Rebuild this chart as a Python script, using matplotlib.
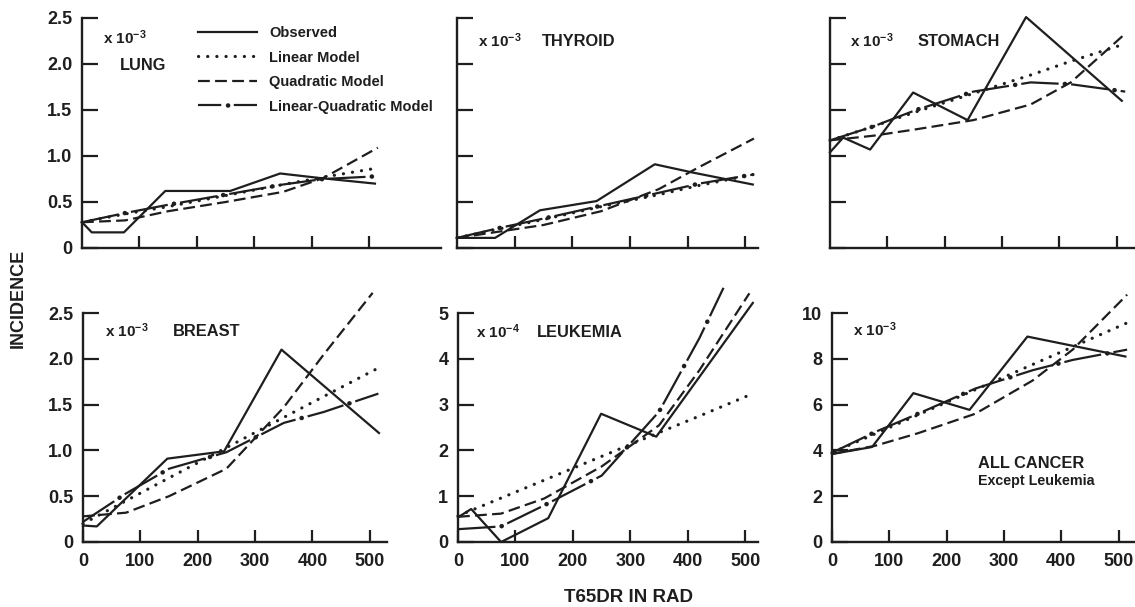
import matplotlib
matplotlib.use("Agg")
import matplotlib.pyplot as plt
from matplotlib.lines import Line2D

plt.rcParams["font.family"] = ["Liberation Sans", "DejaVu Sans"]
plt.rcParams["font.weight"] = "bold"
plt.rcParams["lines.scale_dashes"] = False
plt.rcParams["mathtext.fontset"] = "custom"
plt.rcParams["mathtext.rm"] = "Liberation Sans:bold"
plt.rcParams["mathtext.default"] = "rm"

INK = "#1e1e1e"
W, H = 1135, 607

# model curves are tabulated at these doses (rad)
MODEL_DOSE = [0, 75, 150, 250, 350, 420, 515]

# lung, x 10^-3
lung_obs_dose = [0, 17, 73, 145, 258, 345, 415, 510]
lung_obs = [0.28, 0.17, 0.17, 0.62, 0.62, 0.81, 0.76, 0.70]
lung_lin = [0.28, 0.37, 0.45, 0.57, 0.69, 0.77, 0.87]
lung_quad = [0.28, 0.30, 0.40, 0.50, 0.61, 0.76, 1.09]
lung_lq = [0.28, 0.38, 0.47, 0.58, 0.69, 0.75, 0.78]

# thyroid, x 10^-3
thyroid_obs_dose = [0, 66, 144, 242, 343, 409, 513]
thyroid_obs = [0.11, 0.11, 0.41, 0.51, 0.91, 0.82, 0.69]
thyroid_lin = [0.11, 0.21, 0.31, 0.45, 0.58, 0.68, 0.80]
thyroid_quad = [0.11, 0.18, 0.25, 0.40, 0.64, 0.88, 1.19]
thyroid_lq = [0.11, 0.22, 0.32, 0.46, 0.60, 0.70, 0.80]

# stomach, x 10^-3
stomach_obs_dose = [0, 23, 70, 145, 240, 342, 509]
stomach_obs = [1.04, 1.20, 1.07, 1.69, 1.39, 2.51, 1.60]
stomach_lin = [1.17, 1.32, 1.48, 1.68, 1.88, 2.03, 2.22]
stomach_quad = [1.17, 1.22, 1.29, 1.39, 1.56, 1.80, 2.33]
stomach_lq = [1.17, 1.32, 1.50, 1.70, 1.80, 1.78, 1.70]

# breast, x 10^-3
breast_obs_dose = [0, 24, 147, 246, 346, 516]
breast_obs = [0.18, 0.17, 0.91, 0.99, 2.10, 1.19]
breast_lin = [0.20, 0.45, 0.70, 1.03, 1.36, 1.59, 1.90]
breast_quad_dose = [0, 75, 150, 250, 350, 420, 505]
breast_quad = [0.28, 0.32, 0.50, 0.80, 1.47, 2.05, 2.72]
breast_lq = [0.22, 0.53, 0.80, 0.98, 1.30, 1.42, 1.62]

# leukemia, x 10^-4
leuk_obs_dose = [0, 23, 75, 157, 249, 345, 513]
leuk_obs = [0.54, 0.72, 0.0, 0.52, 2.80, 2.30, 5.22]
leuk_lin = [0.57, 0.96, 1.35, 1.87, 2.39, 2.75, 3.25]
leuk_quad_dose = [0, 75, 150, 250, 350, 420, 507]
leuk_quad = [0.55, 0.62, 0.95, 1.65, 2.55, 3.75, 5.43]
leuk_lq_dose = [0, 75, 150, 250, 350, 420, 462]
leuk_lq = [0.28, 0.34, 0.80, 1.45, 2.85, 4.45, 5.55]

# all cancer except leukemia, x 10^-3
allc_obs_dose = [0, 70, 142, 240, 341, 512]
allc_obs = [3.84, 4.15, 6.50, 5.77, 8.97, 8.10]
allc_lin = [3.90, 4.72, 5.55, 6.65, 7.75, 8.52, 9.57]
allc_quad = [3.85, 4.20, 4.75, 5.60, 7.05, 8.40, 10.80]
allc_lq = [3.90, 4.80, 5.60, 6.70, 7.50, 7.95, 8.40]


def fx(px):
    return px / W


def fy(py):
    return 1 - py / H


def style_obs(ax, x, y):
    ax.plot(x, y, color=INK, lw=1.6, clip_on=False)


def style_lin(ax, x, y):
    ax.plot(x, y, color=INK, lw=2.3, linestyle=(0, (0.1, 6.5)),
            dash_capstyle="round", clip_on=False)


def style_quad(ax, x, y):
    ax.plot(x, y, color=INK, lw=1.6, linestyle=(0, (8.5, 3.8)), clip_on=False)


def style_lq(ax, x, y):
    # long dashes with a heavier dot sitting in every gap
    ax.plot(x, y, color=INK, lw=1.6, linestyle=(0, (27, 9)), clip_on=False)
    ax.plot(x, y, color=INK, lw=3.3, linestyle=(4.5, (0.1, 35.9)),
            dash_capstyle="round", clip_on=False)


fig = plt.figure(figsize=(W / 100, H / 100), dpi=100)

# left, top, width, height in pixels; xmax in rad
panels = [
    dict(rect=(82, 18, 359, 230), xmax=625, ymax=2.5,
         yticks=[0, 0.5, 1.0, 1.5, 2.0, 2.5], ylabels=True, xlabels=False,
         obs=(lung_obs_dose, lung_obs), lin=(MODEL_DOSE, lung_lin),
         quad=(MODEL_DOSE, lung_quad), lq=(MODEL_DOSE, lung_lq)),
    dict(rect=(457, 18, 301, 230), xmax=522, ymax=2.5,
         yticks=[0, 0.5, 1.0, 1.5, 2.0, 2.5], ylabels=False, xlabels=False,
         obs=(thyroid_obs_dose, thyroid_obs), lin=(MODEL_DOSE, thyroid_lin),
         quad=(MODEL_DOSE, thyroid_quad), lq=(MODEL_DOSE, thyroid_lq)),
    dict(rect=(830, 18, 305, 230), xmax=532, ymax=2.5,
         yticks=[0, 0.5, 1.0, 1.5, 2.0, 2.5], ylabels=False, xlabels=False,
         obs=(stomach_obs_dose, stomach_obs), lin=(MODEL_DOSE, stomach_lin),
         quad=(MODEL_DOSE, stomach_quad), lq=(MODEL_DOSE, stomach_lq)),
    dict(rect=(83, 313, 304, 229), xmax=530, ymax=2.5,
         yticks=[0, 0.5, 1.0, 1.5, 2.0, 2.5], ylabels=True, xlabels=True,
         obs=(breast_obs_dose, breast_obs), lin=(MODEL_DOSE, breast_lin),
         quad=(breast_quad_dose, breast_quad), lq=(MODEL_DOSE, breast_lq)),
    dict(rect=(458, 313, 300, 229), xmax=522, ymax=5,
         yticks=[0, 1, 2, 3, 4, 5], ylabels=True, xlabels=True,
         obs=(leuk_obs_dose, leuk_obs), lin=(MODEL_DOSE, leuk_lin),
         quad=(leuk_quad_dose, leuk_quad), lq=(leuk_lq_dose, leuk_lq)),
    dict(rect=(832, 313, 302, 229), xmax=527, ymax=10,
         yticks=[0, 2, 4, 6, 8, 10], ylabels=True, xlabels=True,
         obs=(allc_obs_dose, allc_obs), lin=(MODEL_DOSE, allc_lin),
         quad=(MODEL_DOSE, allc_quad), lq=(MODEL_DOSE, allc_lq)),
]

axes = []
for p in panels:
    left, top, width, height = p["rect"]
    ax = fig.add_axes([fx(left), fy(top + height), width / W, height / H])
    ax.set_xlim(0, p["xmax"])
    ax.set_ylim(0, p["ymax"])
    for side in ("top", "right"):
        ax.spines[side].set_visible(False)
    for side in ("left", "bottom"):
        ax.spines[side].set_linewidth(1.7)
        ax.spines[side].set_color(INK)

    style_obs(ax, *p["obs"])
    style_lin(ax, *p["lin"])
    style_quad(ax, *p["quad"])
    style_lq(ax, *p["lq"])

    ax.set_yticks(p["yticks"])
    if p["ymax"] > 2.5:
        ax.set_yticklabels(["%d" % t for t in p["yticks"]])
    else:
        ax.set_yticklabels(["0"] + ["%.1f" % t for t in p["yticks"][1:]])
    ax.tick_params(axis="y", direction="in", length=11.5, width=1.6, color=INK,
                   labelsize=13, pad=7, labelleft=p["ylabels"])
    if p["xlabels"]:
        ax.set_xticks([0, 100, 200, 300, 400, 500])
    else:
        ax.set_xticks([100, 200, 300, 400, 500])
    ax.tick_params(axis="x", direction="in", length=8.5, width=1.6, color=INK,
                   labelsize=13, pad=8, labelbottom=p["xlabels"])
    for lbl in ax.get_xticklabels() + ax.get_yticklabels():
        lbl.set_fontweight("bold")
        lbl.set_color(INK)
    axes.append(ax)

# panel captions
caps = [
    ("x 10$^{-3}$", 103, 38), ("LUNG", 120, 65),
    ("x 10$^{-3}$", 478, 41), ("THYROID", 542, 42),
    ("x 10$^{-3}$", 850, 41), ("STOMACH", 918, 42),
    ("x 10$^{-3}$", 105, 331), ("BREAST", 173, 332),
    ("x 10$^{-4}$", 476, 332), ("LEUKEMIA", 537, 333),
    ("x 10$^{-3}$", 853, 330),
]
for txt, x, y in caps:
    size = 11 if txt.startswith("x") else 11.8
    fig.text(fx(x), fy(y), txt, fontsize=size, ha="left", va="center", color=INK)
fig.text(fx(978), fy(463), "ALL CANCER", fontsize=11.8, ha="left", va="center", color=INK)
fig.text(fx(978), fy(481), "Except Leukemia", fontsize=10.3, ha="left", va="center", color=INK)

# legend
handles = [
    Line2D([], [], color=INK, lw=1.6),
    Line2D([], [], color=INK, lw=2.3, linestyle=(0, (0.1, 6.5)), dash_capstyle="round"),
    Line2D([], [], color=INK, lw=1.6, linestyle=(0, (8.5, 3.8))),
    (Line2D([], [], color=INK, lw=1.6, linestyle=(10.25, (27, 9))),
     Line2D([], [], color=INK, lw=3.3, linestyle=(14.75, (0.1, 35.9)),
            dash_capstyle="round")),
]
labels = ["Observed", "Linear Model", "Quadratic Model", "Linear-Quadratic Model"]
leg = axes[0].legend(handles, labels, loc="upper left",
                     bbox_to_anchor=(fx(198), fy(26)), bbox_transform=fig.transFigure,
                     frameon=False, fontsize=10.5, handlelength=4.05, handletextpad=0.85,
                     labelspacing=0.72, borderpad=0, borderaxespad=0)
for t in leg.get_texts():
    t.set_fontweight("bold")
    t.set_color(INK)

fig.text(fx(18), fy(298), "INCIDENCE", rotation=90, fontsize=13,
         ha="center", va="center", color=INK)
fig.text(fx(628), fy(598), "T65DR IN RAD", fontsize=13.5,
         ha="center", va="center", color=INK)

fig.savefig("out.png", dpi=100, facecolor="white")
